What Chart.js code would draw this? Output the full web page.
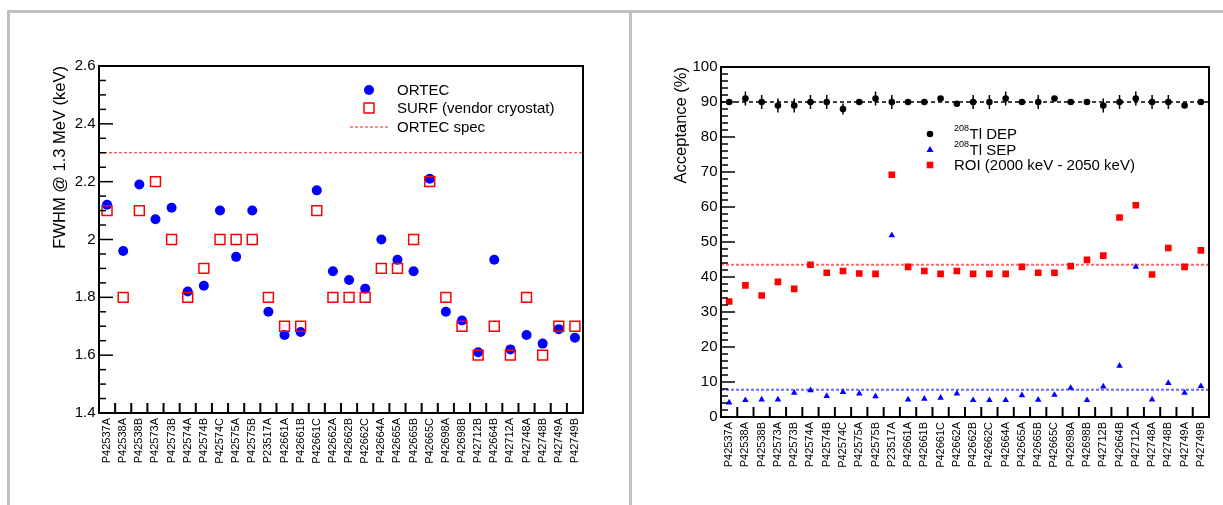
<!DOCTYPE html>
<html>
<head>
<meta charset="utf-8">
<script src="https://cdn.jsdelivr.net/npm/chart.js@4.4.1/dist/chart.umd.min.js"></script>
<style>
  html, body { margin: 0; padding: 0; background: #fff; }
  body { width: 1223px; height: 505px; position: relative; overflow: hidden; }
  .rule { position: absolute; background: #c0c0c0; }
  canvas { position: absolute; top: 0; }
</style>
</head>
<body>
<div class="rule" style="left:7px;top:10px;width:1216px;height:3px"></div>
<div class="rule" style="left:7px;top:10px;width:3px;height:495px"></div>
<div class="rule" style="left:629px;top:10px;width:3px;height:495px"></div>
<canvas id="fwhmChart" width="620" height="505" style="left:0"></canvas>
<canvas id="acceptChart" width="603" height="505" style="left:620px"></canvas>
<script>
// detectors, same order in both panels
const detectors = [
    'P42537A', 'P42538A', 'P42538B', 'P42573A', 'P42573B', 'P42574A', 'P42574B', 'P42574C',
    'P42575A', 'P42575B', 'P23517A', 'P42661A', 'P42661B', 'P42661C', 'P42662A', 'P42662B',
    'P42662C', 'P42664A', 'P42665A', 'P42665B', 'P42665C', 'P42698A', 'P42698B', 'P42712B',
    'P42664B', 'P42712A', 'P42748A', 'P42748B', 'P42749A', 'P42749B'
];

// FWHM @ 1.3 MeV (keV)
const fwhmOrtec = [2.12, 1.96, 2.19, 2.07, 2.11, 1.82, 1.84, 2.10, 1.94, 2.10,
    1.75, 1.67, 1.68, 2.17, 1.89, 1.86, 1.83, 2.00, 1.93, 1.89,
    2.21, 1.75, 1.72, 1.61, 1.93, 1.62, 1.67, 1.64, 1.69, 1.66];
const fwhmSurf = [2.1, 1.8, 2.1, 2.2, 2.0, 1.8, 1.9, 2.0, 2.0, 2.0,
    1.8, 1.7, 1.7, 2.1, 1.8, 1.8, 1.8, 1.9, 1.9, 2.0,
    2.2, 1.8, 1.7, 1.6, 1.7, 1.6, 1.8, 1.6, 1.7, 1.7];
const ortecSpec = 2.3;
const fwhmTicks = { min: 1.4, max: 2.6, step: 0.2, minor: 0.05 };

// Acceptance (%)
const depAcc = [90, 91, 90, 89, 89, 90, 90, 88, 90, 91,
    90, 90, 90, 91, 89.5, 90, 90, 91, 90, 90,
    91, 90, 90, 89, 90, 91, 90, 90, 89, 90];
const depErr = [0.6, 2, 2, 2, 2, 2, 2, 1.6, 0.6, 2,
    2, 0.6, 0.6, 0.6, 0.6, 2, 2, 2, 0.6, 2,
    0.6, 0.6, 0.6, 2, 2, 2, 2, 2, 0.6, 0.6];
const sepAcc = [4.1, 4.8, 5.0, 5.0, 6.9, 7.6, 6.0, 7.1, 6.7, 5.9,
    51.9, 5.0, 5.2, 5.5, 6.7, 4.8, 4.8, 4.8, 6.2, 4.9,
    6.3, 8.3, 4.8, 8.7, 14.6, 42.9, 5.0, 9.7, 6.9, 8.8];
const roiAcc = [33.0, 37.6, 34.7, 38.6, 36.6, 43.5, 41.2, 41.7, 41.0, 40.9,
    69.2, 42.9, 41.7, 40.9, 41.7, 40.9, 40.9, 40.9, 42.9, 41.2,
    41.2, 43.1, 44.9, 46.1, 57.0, 60.5, 40.7, 48.3, 42.9, 47.6];
const depMean = 90;
const roiMean = 43.5;
const sepMean = 7.8;
const accTicks = { min: 0, max: 100, step: 10, minor: 2 };

Chart.defaults.font.family = '"Liberation Sans", Arial, Helvetica, sans-serif';
Chart.defaults.color = '#000';

// ROOT-like frame, inner ticks, reference lines, error bars and legend
function makeDecor(cfg) {
    return {
        id: 'decor',
        beforeDatasetsDraw(chart) {
            const { ctx, chartArea: a, scales: { x, y } } = chart;
            ctx.save();
            ctx.beginPath();
            ctx.rect(a.left, a.top, a.width, a.height);
            ctx.clip();
            cfg.refLines.forEach(l => {
                const py = y.getPixelForValue(l.value);
                ctx.strokeStyle = l.color;
                ctx.lineWidth = l.width;
                ctx.setLineDash(l.dash);
                ctx.beginPath();
                ctx.moveTo(a.left, py);
                ctx.lineTo(a.right, py);
                ctx.stroke();
            });
            ctx.setLineDash([]);
            if (cfg.errors) {
                ctx.strokeStyle = '#000';
                ctx.lineWidth = 1.5;
                cfg.errors.values.forEach((v, i) => {
                    const e = cfg.errors.err[i];
                    const px = x.getPixelForValue(i);
                    ctx.beginPath();
                    ctx.moveTo(px, y.getPixelForValue(v - e));
                    ctx.lineTo(px, y.getPixelForValue(v + e));
                    ctx.stroke();
                });
            }
            ctx.restore();
        },
        afterDatasetsDraw(chart) {
            const { ctx, chartArea: a, scales: { x, y } } = chart;
            ctx.save();
            ctx.strokeStyle = '#000';
            ctx.lineWidth = 2;
            ctx.strokeRect(a.left, a.top, a.width, a.height);

            // y ticks, inside the frame
            const t = cfg.ticks;
            const n = Math.round((t.max - t.min) / t.minor);
            const per = Math.round(t.step / t.minor);
            ctx.lineWidth = 1.5;
            for (let i = 0; i <= n; i++) {
                const py = y.getPixelForValue(t.min + i * t.minor);
                const len = i % per === 0 ? 14 : 7;
                ctx.beginPath();
                ctx.moveTo(a.left, py);
                ctx.lineTo(a.left + len, py);
                ctx.stroke();
            }
            // x ticks between categories
            const half = (x.getPixelForValue(1) - x.getPixelForValue(0)) / 2;
            ctx.lineWidth = 2;
            for (let i = 0; i < detectors.length - 1; i++) {
                const px = x.getPixelForValue(i) + half;
                ctx.beginPath();
                ctx.moveTo(px, a.bottom);
                ctx.lineTo(px, a.bottom - 10);
                ctx.stroke();
            }

            // legend
            const L = cfg.legend;
            ctx.textBaseline = 'middle';
            ctx.textAlign = 'left';
            L.items.forEach((it, k) => {
                const mx = a.left + L.markerX;
                const my = a.top + L.rows[k];
                ctx.setLineDash([]);
                if (it.type === 'circle') {
                    ctx.fillStyle = it.color;
                    ctx.beginPath();
                    ctx.arc(mx, my, it.r, 0, Math.PI * 2);
                    ctx.fill();
                } else if (it.type === 'box') {
                    ctx.strokeStyle = it.color;
                    ctx.lineWidth = 1.5;
                    ctx.strokeRect(mx - it.r, my - it.r, it.r * 2, it.r * 2);
                } else if (it.type === 'square') {
                    ctx.fillStyle = it.color;
                    ctx.fillRect(mx - it.r, my - it.r, it.r * 2, it.r * 2);
                } else if (it.type === 'triangle') {
                    ctx.fillStyle = it.color;
                    ctx.beginPath();
                    ctx.moveTo(mx, my - it.r);
                    ctx.lineTo(mx + it.r * 0.87, my + it.r * 0.5);
                    ctx.lineTo(mx - it.r * 0.87, my + it.r * 0.5);
                    ctx.closePath();
                    ctx.fill();
                } else if (it.type === 'dash') {
                    ctx.strokeStyle = it.color;
                    ctx.lineWidth = 1.2;
                    ctx.setLineDash([3, 2]);
                    ctx.beginPath();
                    ctx.moveTo(mx - 19, my);
                    ctx.lineTo(mx + 19, my);
                    ctx.stroke();
                }
                ctx.fillStyle = '#000';
                let tx = a.left + L.textX;
                if (it.sup) {
                    ctx.font = '9px "Liberation Sans", Arial, sans-serif';
                    ctx.fillText(it.sup, tx, my - 5);
                    tx += ctx.measureText(it.sup).width + 0.5;
                }
                ctx.font = L.font + 'px "Liberation Sans", Arial, sans-serif';
                ctx.fillText(it.label, tx, my + 0.5);
            });
            ctx.restore();
        }
    };
}

function baseScales(ticks, title, yWidth, xHeight, titlePad) {
    return {
        x: {
            type: 'category',
            offset: true,
            grid: { display: false, drawTicks: false },
            border: { display: false },
            ticks: { autoSkip: false, minRotation: 90, maxRotation: 90, padding: 5, font: { size: 11 } },
            afterFit: s => { s.height = xHeight; }
        },
        y: {
            min: ticks.min,
            max: ticks.max,
            grid: { display: false, drawTicks: false },
            border: { display: false },
            ticks: {
                stepSize: ticks.step,
                padding: 3.5,
                font: { size: 15 },
                callback: v => String(+v.toFixed(1))
            },
            title: {
                display: true,
                text: title,
                align: 'end',
                font: { size: 16.5 },
                padding: { top: titlePad, bottom: 0 }
            },
            afterFit: s => { s.width = yWidth; }
        }
    };
}

// left panel: FWHM
new Chart(document.getElementById('fwhmChart'), {
    type: 'line',
    data: {
        labels: detectors,
        datasets: [
            {
                label: 'SURF (vendor cryostat)',
                data: fwhmSurf,
                showLine: false,
                pointStyle: 'rect',
                pointRadius: 7,
                pointBackgroundColor: 'rgba(0,0,0,0)',
                pointBorderColor: '#ff0000',
                pointBorderWidth: 1.5,
                order: 1
            },
            {
                label: 'ORTEC',
                data: fwhmOrtec,
                showLine: false,
                pointStyle: 'circle',
                pointRadius: 5,
                pointBackgroundColor: '#0000ff',
                pointBorderWidth: 0,
                order: 2
            }
        ]
    },
    options: {
        responsive: false,
        animation: false,
        events: [],
        layout: { padding: { top: 66, right: 37, left: 0, bottom: 0 } },
        plugins: { legend: { display: false }, tooltip: { enabled: false } },
        scales: baseScales(fwhmTicks, 'FWHM @ 1.3 MeV (keV)', 99, 92, 51)
    },
    plugins: [makeDecor({
        ticks: fwhmTicks,
        refLines: [{ value: ortecSpec, color: '#ff2020', width: 1.2, dash: [3, 2] }],
        legend: {
            markerX: 270, textX: 298, font: 15, rows: [24, 42, 61],
            items: [
                { type: 'circle', color: '#0000ff', r: 5, label: 'ORTEC' },
                { type: 'box', color: '#ff0000', r: 5, label: 'SURF (vendor cryostat)' },
                { type: 'dash', color: '#ff2020', label: 'ORTEC spec' }
            ]
        }
    })]
});

// right panel: acceptance
new Chart(document.getElementById('acceptChart'), {
    type: 'line',
    data: {
        labels: detectors,
        datasets: [
            {
                label: 'DEP',
                data: depAcc,
                showLine: false,
                pointStyle: 'circle',
                pointRadius: 3.3,
                pointBackgroundColor: '#000',
                pointBorderWidth: 0
            },
            {
                label: 'SEP',
                data: sepAcc,
                showLine: false,
                pointStyle: 'triangle',
                pointRadius: 3.8,
                pointBackgroundColor: '#0000ff',
                pointBorderWidth: 0
            },
            {
                label: 'ROI',
                data: roiAcc,
                showLine: false,
                pointStyle: 'rect',
                pointRadius: 4.7,
                pointBackgroundColor: '#ff0000',
                pointBorderWidth: 0
            }
        ]
    },
    options: {
        responsive: false,
        animation: false,
        events: [],
        layout: { padding: { top: 67, right: 14, left: 0, bottom: 0 } },
        plugins: { legend: { display: false }, tooltip: { enabled: false } },
        scales: baseScales(accTicks, 'Acceptance (%)', 101, 88, 52)
    },
    plugins: [makeDecor({
        ticks: accTicks,
        errors: { values: depAcc, err: depErr },
        refLines: [
            { value: depMean, color: '#000', width: 1.5, dash: [4, 3] },
            { value: roiMean, color: 'rgba(255,40,40,0.7)', width: 2, dash: [3, 2] },
            { value: sepMean, color: 'rgba(40,40,255,0.7)', width: 2, dash: [3, 2] }
        ],
        legend: {
            markerX: 209, textX: 233, font: 15, rows: [67, 83, 98],
            items: [
                { type: 'circle', color: '#000', r: 3.3, sup: '208', label: 'Tl DEP' },
                { type: 'triangle', color: '#0000ff', r: 4, sup: '208', label: 'Tl SEP' },
                { type: 'square', color: '#ff0000', r: 3.3, label: 'ROI (2000 keV - 2050 keV)' }
            ]
        }
    })]
});
</script>
</body>
</html>
